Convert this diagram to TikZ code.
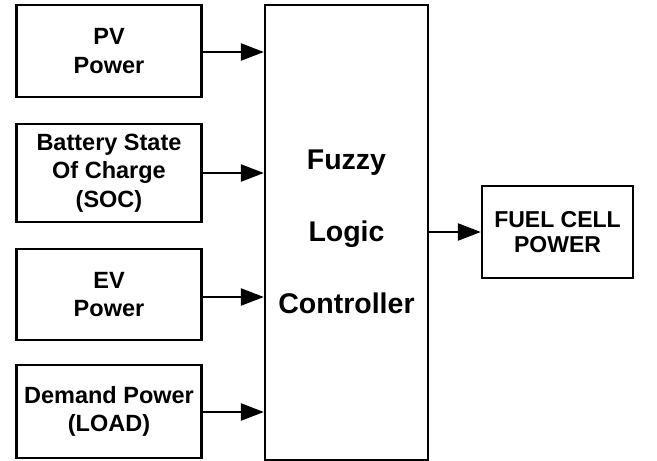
\documentclass[tikz,border=0pt]{standalone}
\usepackage{fontspec}
\setmainfont{Liberation Sans}
\usetikzlibrary{arrows.meta}
\begin{document}
\begin{tikzpicture}[x=1pt,y=-1pt,
  blk/.style={draw, line width=2.3pt, inner sep=0pt},
  lbl/.style={font=\bfseries\fontsize{23.5}{28.5}\selectfont, align=center},
  conn/.style={line width=2.3pt, -{Triangle[length=23pt,width=17pt]}}]
\useasboundingbox (0,0) rectangle (657,461);
\node[blk, minimum width=185, minimum height=92] (pv) at (109,51) {};
\node[lbl] at (pv.center) {PV\\Power};
\node[blk, minimum width=185, minimum height=98] (bat) at (109,173) {};
\node[lbl] at (bat.center) {Battery State\\Of Charge\\(SOC)};
\node[blk, minimum width=185, minimum height=91] (ev) at (109,294.5) {};
\node[lbl] at (ev.center) {EV\\Power};
\node[blk, minimum width=185, minimum height=93] (dem) at (109,411.5) {};
\node[lbl] at (dem.center) {Demand Power\\(LOAD)};
\node[blk, minimum width=163, minimum height=455] (flc) at (346.5,232.5) {};
\node[lbl, font=\bfseries\fontsize{28.5}{72}\selectfont] at (346.5,232) {Fuzzy\\Logic\\Controller};
\node[blk, minimum width=151, minimum height=92] (fc) at (557.5,232) {};
\node[lbl, font=\bfseries\fontsize{23}{25}\selectfont] at (fc.center) {FUEL CELL\\POWER};
\coordinate (p1) at (flc.west |- 0,52);
\coordinate (p2) at (flc.west |- 0,173);
\coordinate (p3) at (flc.west |- 0,297);
\coordinate (p4) at (flc.west |- 0,412);
\draw[conn] (pv.east |- p1) -- (p1);
\draw[conn] (bat.east |- p2) -- (p2);
\draw[conn] (ev.east |- p3) -- (p3);
\draw[conn] (dem.east |- p4) -- (p4);
\draw[conn] (flc.east |- fc.west) -- (fc.west);
\end{tikzpicture}
\end{document}
